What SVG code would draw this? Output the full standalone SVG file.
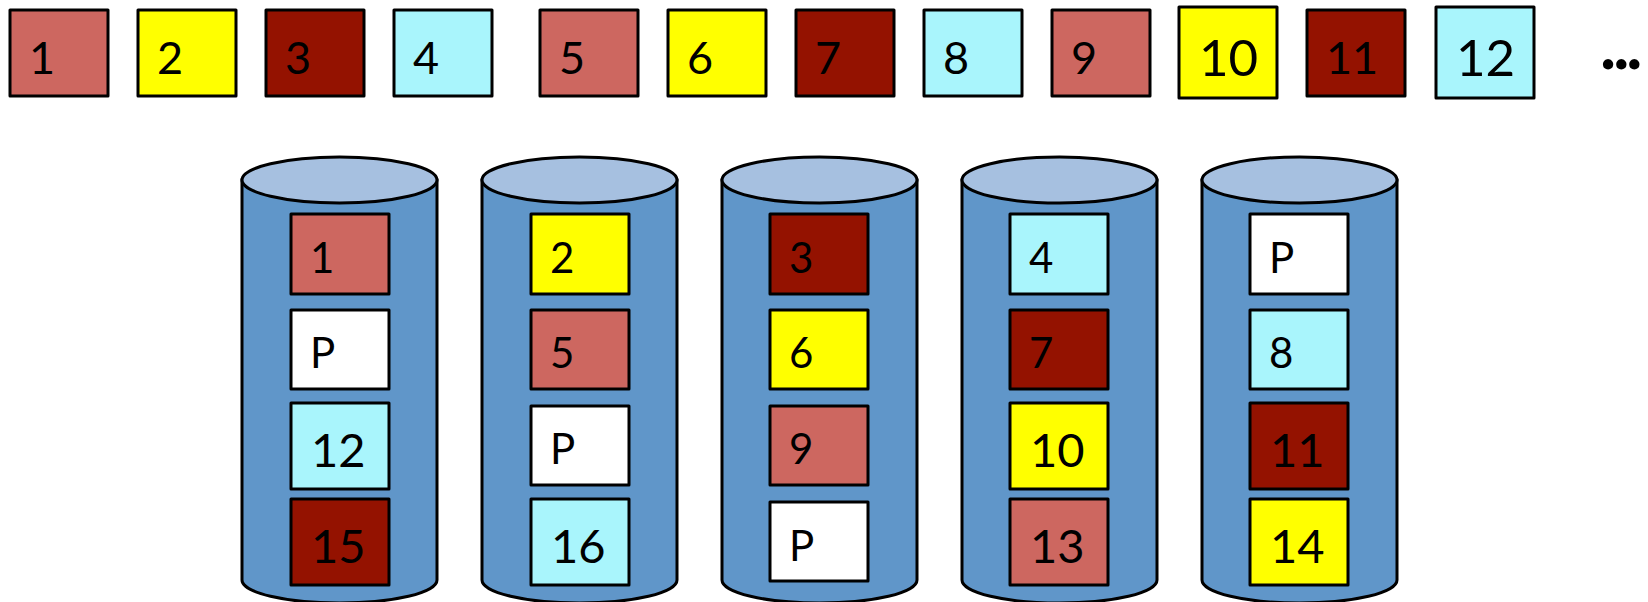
<svg xmlns="http://www.w3.org/2000/svg" width="1648" height="602" viewBox="0 0 1648 602">
<style>
.b{stroke:#000;stroke-width:3;stroke-linejoin:round}
.s{fill:#CD6760}.y{fill:#FFFF00}.r{fill:#941200}.c{fill:#A9F5FC}.w{fill:#FFFFFF}
.t{font-family:Lato,"Open Sans",sans-serif;fill:#000;font-size:45px}
.tb{font-size:51px}
.i{font-size:42px}.ib{font-size:47px}
.body{fill:#6096C9;stroke:#000;stroke-width:3}
.top{fill:#A6C0E0;stroke:#000;stroke-width:3}
.dots{font-family:Lato,"Open Sans",sans-serif;font-weight:bold;font-size:68px;letter-spacing:-3px;fill:#000}
</style>
<g id="stream">
<g id="s1"><rect class="b s" x="10" y="10" width="98" height="86"/><text class="t" x="29" y="74">1</text></g>
<g id="s2"><rect class="b y" x="138" y="10" width="98" height="86"/><text class="t" x="157" y="74">2</text></g>
<g id="s3"><rect class="b r" x="266" y="10" width="98" height="86"/><text class="t" x="285" y="74">3</text></g>
<g id="s4"><rect class="b c" x="394" y="10" width="98" height="86"/><text class="t" x="413" y="74">4</text></g>
<g id="s5"><rect class="b s" x="540" y="10" width="98" height="86"/><text class="t" x="559" y="74">5</text></g>
<g id="s6"><rect class="b y" x="668" y="10" width="98" height="86"/><text class="t" x="687" y="74">6</text></g>
<g id="s7"><rect class="b r" x="796" y="10" width="98" height="86"/><text class="t" x="815" y="74">7</text></g>
<g id="s8"><rect class="b c" x="924" y="10" width="98" height="86"/><text class="t" x="943" y="74">8</text></g>
<g id="s9"><rect class="b s" x="1052" y="10" width="98" height="86"/><text class="t" x="1071" y="74">9</text></g>
<g id="s10"><rect class="b y" x="1179" y="7" width="98" height="91"/><text class="t tb" x="1199" y="76">10</text></g>
<g id="s11"><rect class="b r" x="1307" y="10" width="98" height="86"/><text class="t" x="1326" y="74">11</text></g>
<g id="s12"><rect class="b c" x="1436" y="7" width="98" height="91"/><text class="t tb" x="1456" y="76">12</text></g>
<text id="ellipsis" class="dots" x="1600" y="69">...</text>
</g>
<g id="disk1">
<path class="body" d="M242,180 L242,580 A97.5,23 0 0 0 437,580 L437,180 Z"/>
<ellipse class="top" cx="339.5" cy="180" rx="97.5" ry="23"/>
<rect class="b s" x="291" y="214" width="98" height="80"/><text class="t i" x="310" y="273">1</text>
<rect class="b w" x="291" y="310" width="98" height="79"/><text class="t i" x="310" y="368">P</text>
<rect class="b c" x="291" y="403" width="98" height="86"/><text class="t ib" x="311" y="467">12</text>
<rect class="b r" x="291" y="499" width="98" height="86"/><text class="t ib" x="311" y="563">15</text>
</g>
<g id="disk2">
<path class="body" d="M482,180 L482,580 A97.5,23 0 0 0 677,580 L677,180 Z"/>
<ellipse class="top" cx="579.5" cy="180" rx="97.5" ry="23"/>
<rect class="b y" x="531" y="214" width="98" height="80"/><text class="t i" x="550" y="273">2</text>
<rect class="b s" x="531" y="310" width="98" height="79"/><text class="t i" x="550" y="368">5</text>
<rect class="b w" x="531" y="406" width="98" height="79"/><text class="t i" x="550" y="464">P</text>
<rect class="b c" x="531" y="499" width="98" height="86"/><text class="t ib" x="551" y="563">16</text>
</g>
<g id="disk3">
<path class="body" d="M722,180 L722,580 A97.5,23 0 0 0 917,580 L917,180 Z"/>
<ellipse class="top" cx="819.5" cy="180" rx="97.5" ry="23"/>
<rect class="b r" x="770" y="214" width="98" height="80"/><text class="t i" x="789" y="273">3</text>
<rect class="b y" x="770" y="310" width="98" height="79"/><text class="t i" x="789" y="368">6</text>
<rect class="b s" x="770" y="406" width="98" height="79"/><text class="t i" x="789" y="464">9</text>
<rect class="b w" x="770" y="502" width="98" height="79"/><text class="t i" x="789" y="561">P</text>
</g>
<g id="disk4">
<path class="body" d="M962,180 L962,580 A97.5,23 0 0 0 1157,580 L1157,180 Z"/>
<ellipse class="top" cx="1059.5" cy="180" rx="97.5" ry="23"/>
<rect class="b c" x="1010" y="214" width="98" height="80"/><text class="t i" x="1029" y="273">4</text>
<rect class="b r" x="1010" y="310" width="98" height="79"/><text class="t i" x="1029" y="368">7</text>
<rect class="b y" x="1010" y="403" width="98" height="86"/><text class="t ib" x="1030" y="467">10</text>
<rect class="b s" x="1010" y="499" width="98" height="86"/><text class="t ib" x="1030" y="563">13</text>
</g>
<g id="disk5">
<path class="body" d="M1202,180 L1202,580 A97.5,23 0 0 0 1397,580 L1397,180 Z"/>
<ellipse class="top" cx="1299.5" cy="180" rx="97.5" ry="23"/>
<rect class="b w" x="1250" y="214" width="98" height="80"/><text class="t i" x="1269" y="273">P</text>
<rect class="b c" x="1250" y="310" width="98" height="79"/><text class="t i" x="1269" y="368">8</text>
<rect class="b r" x="1250" y="403" width="98" height="86"/><text class="t ib" x="1270" y="467">11</text>
<rect class="b y" x="1250" y="499" width="98" height="86"/><text class="t ib" x="1270" y="563">14</text>
</g>
</svg>
